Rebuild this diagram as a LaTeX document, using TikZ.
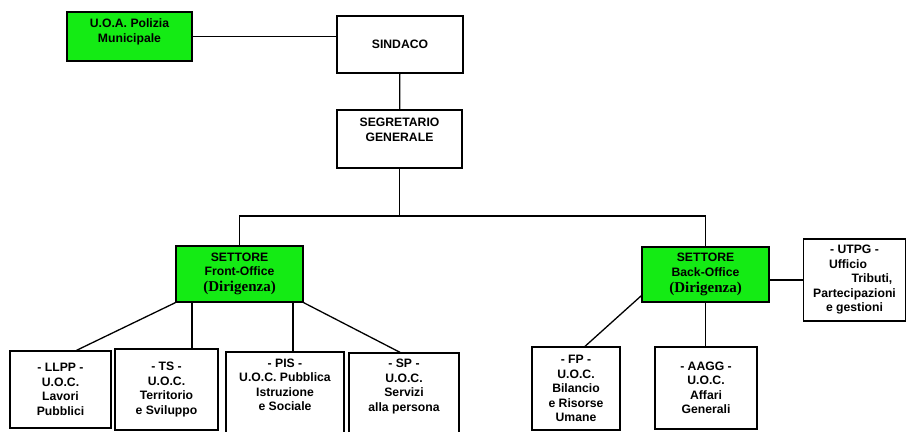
\documentclass[tikz,border=0pt]{standalone}
\usepackage{fontspec}
\setmainfont{Liberation Sans}
\newfontfamily\dirfont{Liberation Serif}
\definecolor{settore}{RGB}{20,235,20}
\tikzset{
  box/.style={draw, fill=white, line width=1.3pt, align=center, inner sep=0pt,
    font=\fontsize{12.2}{14.5}\selectfont\bfseries},
  greenbox/.style={box, fill=settore},
}
\newcommand{\dirig}{{\dirfont\fontsize{15}{16}\selectfont\bfseries (Dirigenza)}}

\begin{document}
\begin{tikzpicture}[x=1pt, y=-1pt]

      \fill[white] (0,0) rectangle (907,431);
      \useasboundingbox (0,0) rectangle (907,431);

      \begin{scope}[every node/.style={box}]
        \node[greenbox] (pol) at (129.5,36.5) [minimum width=125pt, minimum height=49pt] {U.O.A. Polizia\\ Municipale\\[-7pt] \strut};
        \node (sind)  at (400,44.5)  [minimum width=126pt, minimum height=57pt] {SINDACO};
        \node (seg)   at (399.5,139) [minimum width=125pt, minimum height=58pt] {SEGRETARIO\\ GENERALE\\ \strut};
        \node[greenbox] (front) at (239.5,274) [minimum width=127pt, minimum height=56pt] {SETTORE\\ Front-Office\\[1.5pt] \dirig};
        \node[greenbox] (back)  at (705.5,274.5) [minimum width=127pt, minimum height=55pt] {SETTORE\\ Back-Office\\[1.5pt] \dirig};
        \node (utpg)  at (854.5,280) [minimum width=102pt, minimum height=82pt] {- UTPG -\\ Ufficio\hspace{13pt}\mbox{}\\ \hspace*{35pt}Tributi,\\ Partecipazioni\\ e gestioni};
        \node (llpp)  at (60.5,389.5)  [minimum width=101pt, minimum height=77pt] {- LLPP -\\ U.O.C.\\ Lavori\\ Pubblici};
        \node (ts)    at (166.5,389.5) [minimum width=103pt, minimum height=81pt] {- TS -\\ U.O.C.\\ Territorio\\ e Sviluppo};
        \node (pis)   at (285,394)     [minimum width=118pt, minimum height=84pt] {- PIS -\\ U.O.C. Pubblica\\ Istruzione\\ e Sociale\\ \strut};
        \node (sp)    at (404,394.5)   [minimum width=110pt, minimum height=83pt] {- SP -\\ U.O.C.\\ Servizi\\ alla persona\\ \strut};
        \node (fp)    at (576,388.5)   [minimum width=88pt, minimum height=83pt] {- FP -\\ U.O.C.\\ Bilancio\\ e Risorse\\ Umane};
        \node (aagg)  at (706,388)     [minimum width=102pt, minimum height=82pt] {- AAGG -\\ U.O.C.\\ Affari\\ Generali};
      \end{scope}

      \coordinate (bus) at (399.5,216);

      \begin{scope}[line width=1.3pt]
        \draw (pol.east) -- (pol.east -| sind.west);
        \draw (sind) -- (seg);
        \draw (seg) -- (bus);
        \draw (front) |- (bus) -| (back);
        \draw (back.east |- utpg.west) -- (utpg.west);
        \draw (front.south west) -- ([xshift=16pt]llpp.north);
        \draw ([xshift=25.5pt]ts.north) -- ([xshift=25.5pt]ts.north |- front.south);
        \draw ([xshift=8pt]pis.north) -- ([xshift=8pt]pis.north |- front.south);
        \draw (front.south east) -- ([xshift=-4pt]sp.north);
        \draw ([yshift=7pt]back.south west) -- ([xshift=9pt]fp.north);
        \draw (back.south) -- (back.south |- aagg.north);
      \end{scope}

    \end{tikzpicture}
\end{document}
